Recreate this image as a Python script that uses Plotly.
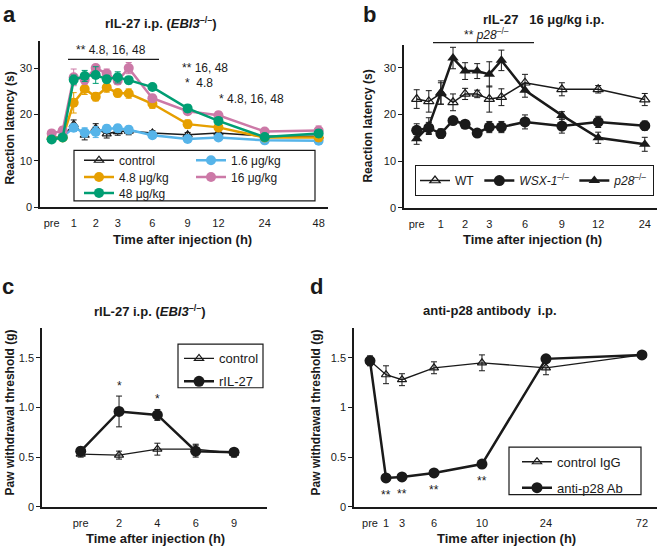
import plotly.graph_objects as go

W, H = 658, 552
FONT = "Liberation Sans, Arial, sans-serif"
INK = "#1a1a1a"

# ---------- panel a : rIL-27 i.p. dose response (EBI3-/-) ----------
A_TIME = ["pre", "0.5", "1", "1.5", "2", "2.5", "3", "4", "6", "9", "12", "24", "48"]
A_POS = [0, 1, 2, 3, 4, 5, 6, 7, 9.15, 12.35, 15.15, 19.35, 24.25]
A_TICKS = ["pre", "1", "2", "3", "6", "9", "12", "24", "48"]

a_control = [15.0, 15.3, 17.8, 15.5, 17.0, 15.8, 16.3, 16.4, 16.0, 15.6, 16.0, 15.3, 15.3]
a_control_err = [0.5, 0.5, 1.0, 1.0, 1.0, 0.9, 0.8, 0.8, 0.5, 0.5, 0.5, 0.5, 0.5]
a_1_6 = [14.8, 15.2, 17.1, 16.1, 16.2, 16.9, 17.0, 16.7, 15.5, 14.7, 15.0, 14.4, 14.3]
a_1_6_err = [0.5, 0.5, 0.8, 1.0, 1.2, 0.8, 0.8, 0.8, 0.6, 0.5, 0.5, 0.5, 0.5]
a_4_8 = [14.8, 15.0, 22.5, 25.5, 23.8, 25.8, 24.6, 24.5, 22.3, 17.9, 17.2, 15.0, 15.0]
a_4_8_err = [0.5, 0.5, 2.2, 1.2, 0.9, 1.0, 0.8, 1.0, 1.0, 0.9, 0.8, 0.5, 0.8]
a_16 = [15.9, 16.5, 28.0, 27.5, 30.0, 28.8, 27.3, 30.0, 23.5, 20.7, 19.8, 16.3, 16.5]
a_16_err = [0.6, 0.8, 1.8, 1.0, 0.8, 1.0, 0.8, 1.2, 0.8, 0.7, 0.8, 0.6, 1.0]
a_48 = [14.6, 15.0, 27.5, 28.3, 28.5, 27.6, 28.0, 27.4, 25.9, 21.3, 18.6, 15.1, 15.9]
a_48_err = [0.5, 0.5, 1.0, 1.2, 1.8, 0.8, 1.2, 0.8, 0.5, 0.8, 0.6, 0.5, 0.8]

# ---------- panel b : rIL-27 16 ug/kg in WT / WSX-1-/- / p28-/- ----------
B_TIME = ["pre", "0.5", "1", "1.5", "2", "2.5", "3", "4", "6", "9", "12", "24"]
B_POS = [0, 1, 2, 3, 4, 5, 6, 7, 8.95, 12, 15, 18.85]
B_TICKS = ["pre", "1", "2", "3", "6", "9", "12", "24"]

b_wt = [23.3, 22.8, 24.5, 22.6, 24.4, 24.4, 23.3, 23.7, 26.8, 25.4, 25.4, 23.2]
b_wt_err = [2.0, 2.3, 2.3, 1.8, 1.2, 0.8, 2.8, 1.8, 1.8, 1.4, 0.8, 1.3]
b_wsx = [16.6, 17.1, 15.9, 18.7, 17.9, 16.0, 17.3, 17.3, 18.4, 17.5, 18.4, 17.6]
b_wsx_err = [1.4, 1.2, 1.0, 0.8, 0.8, 0.6, 1.2, 1.2, 1.5, 1.5, 1.2, 1.0]
b_p28 = [14.8, 17.5, 24.7, 32.1, 29.3, 29.3, 28.6, 31.6, 25.2, 19.8, 15.0, 13.6]
b_p28_err = [1.2, 1.8, 2.5, 2.3, 1.8, 1.6, 2.7, 2.2, 1.5, 0.8, 1.2, 1.5]

# ---------- panel c : paw withdrawal, rIL-27 (EBI3-/-) ----------
C_TIME = ["pre", "2", "4", "6", "9"]
C_POS = [0, 1, 2, 3, 4]
c_control = [0.53, 0.52, 0.58, 0.58, 0.54]
c_control_err = [0.03, 0.04, 0.06, 0.05, 0.04]
c_ril27 = [0.56, 0.96, 0.925, 0.56, 0.55]
c_ril27_err = [0.04, 0.155, 0.055, 0.06, 0.03]

# ---------- panel d : paw withdrawal, anti-p28 antibody ----------
D_TIME = ["pre", "1", "3", "6", "10", "24", "72"]
D_POS = [0, 1, 2, 4, 7, 11, 17]
d_igg = [1.47, 1.33, 1.28, 1.40, 1.45, 1.40, 1.53]
d_igg_err = [0.05, 0.09, 0.06, 0.06, 0.08, 0.07, 0.03]
d_anti = [1.47, 0.29, 0.30, 0.34, 0.43, 1.49, 1.53]
d_anti_err = [0.03, 0.02, 0.02, 0.02, 0.02, 0.02, 0.02]

ORANGE, BLUE, PINK, GREEN = "#E69F00", "#56B4E9", "#CC79A7", "#009E73"


def px(x):
    return x / W


def py(y):
    return 1 - y / H


fig = go.Figure()


def add_series(pos, y, err, name, color, symbol, size, lw, ax, legend, group):
    open_sym = symbol.endswith("open")
    fig.add_trace(go.Scatter(
        x=pos, y=y, name=name, mode="lines+markers",
        xaxis="x" + ax, yaxis="y" + ax, legend=legend, legendgroup=group,
        line=dict(color=color, width=lw),
        marker=dict(symbol=symbol, size=size, color=color,
                    line=dict(width=1.2 if open_sym else 0, color=color)),
        error_y=dict(type="data", array=err, color=color, thickness=1, width=3),
    ))


add_series(A_POS, a_control, a_control_err, "control", INK, "triangle-up-open", 8, 1.5, "", "legend", "a1")
add_series(A_POS, a_1_6, a_1_6_err, "1.6 μg/kg", BLUE, "circle", 10, 2.5, "", "legend2", "a2")
add_series(A_POS, a_4_8, a_4_8_err, "4.8 μg/kg", ORANGE, "circle", 10, 2.5, "", "legend3", "a3")
add_series(A_POS, a_16, a_16_err, "16 μg/kg", PINK, "circle", 10, 2.5, "", "legend4", "a4")
add_series(A_POS, a_48, a_48_err, "48 μg/kg", GREEN, "circle", 10, 2.5, "", "legend5", "a5")

add_series(B_POS, b_wt, b_wt_err, "WT", INK, "triangle-up-open", 9, 1.5, "2", "legend6", "b1")
add_series(B_POS, b_wsx, b_wsx_err, "<i>WSX-1</i><sup>–/–</sup>", INK, "circle", 11, 2.5, "2", "legend6", "b2")
add_series(B_POS, b_p28, b_p28_err, "<i>p28</i><sup>–/–</sup>", INK, "triangle-up", 10, 2.5, "2", "legend6", "b3")

add_series(C_POS, c_control, c_control_err, "control", INK, "triangle-up-open", 8, 1.3, "3", "legend7", "c1")
add_series(C_POS, c_ril27, c_ril27_err, "rIL-27", INK, "circle", 11, 2.5, "3", "legend7", "c2")

add_series(D_POS, d_igg, d_igg_err, "control IgG", INK, "triangle-up-open", 8, 1.3, "4", "legend8", "d1")
add_series(D_POS, d_anti, d_anti_err, "anti-p28 Ab", INK, "circle", 11, 2.5, "4", "legend8", "d2")


def xaxis(dom, rng, times, pos, ticks, anchor):
    return dict(domain=dom, range=rng, anchor=anchor, showline=True, linecolor=INK, linewidth=1.5,
                showgrid=False, zeroline=False, ticks="",
                tickvals=[pos[times.index(t)] for t in ticks], ticktext=ticks,
                tickfont=dict(size=11, color=INK), ticklabelstandoff=5)


def yaxis(dom, rng, vals, text, anchor):
    return dict(domain=dom, range=rng, anchor=anchor, showline=True, linecolor=INK, linewidth=1.5,
                showgrid=False, zeroline=False, ticks="outside", ticklen=4, tickcolor=INK,
                tickvals=vals, ticktext=text, tickfont=dict(size=11, color=INK))


ycd = [py(512.3), py(331.7)]
fig.update_layout(
    xaxis=xaxis([px(40), px(328)], [-1.06, 25.1], A_TIME, A_POS, A_TICKS, "y"),
    yaxis=yaxis([py(209.3), py(41.7)], [0, 35.8], [0, 10, 20, 30], ["0", "10", "20", "30"], "x"),
    xaxis2=xaxis([px(404), px(657)], [-1.05, 19.86], B_TIME, B_POS, B_TICKS, "y2"),
    yaxis2=yaxis([py(210), py(45)], [0, 35], [0, 10, 20, 30], ["0", "10", "20", "30"], "x2"),
    xaxis3=xaxis([px(42), px(267)], [-1.01, 4.86], C_TIME, C_POS, C_TIME, "y3"),
    yaxis3=yaxis(ycd, [0, 1.8], [0, 0.5, 1, 1.5], ["0", "0.5", "1.0", "1.5"], "x3"),
    xaxis4=xaxis([px(354), px(657)], [-1.0, 17.94], D_TIME, D_POS, D_TIME, "y4"),
    yaxis4=yaxis(ycd, [0, 1.8], [0, 0.5, 1, 1.5], ["0", "0.5", "1", "1.5"], "x4"),
)

# legends (boxes are drawn as shapes so their size matches the original)
leg_common = dict(bgcolor="rgba(0,0,0,0)", itemwidth=30, font=dict(size=12, color=INK, family=FONT),
                  xanchor="left", yanchor="middle", orientation="v")
a_leg_pos = {"legend": (79, 162), "legend2": (191, 162), "legend3": (79, 179),
             "legend4": (191, 179), "legend5": (79, 195)}
legends = {k: dict(leg_common, x=px(x), y=py(y)) for k, (x, y) in a_leg_pos.items()}
legends["legend6"] = dict(leg_common, x=px(415), y=py(182.5), orientation="h",
                          bordercolor=INK, borderwidth=1)
legends["legend7"] = dict(leg_common, x=px(179), y=py(374), tracegroupgap=3,
                          font=dict(size=13, color=INK, family=FONT))
legends["legend8"] = dict(leg_common, x=px(517), y=py(480), tracegroupgap=6,
                          font=dict(size=13, color=INK, family=FONT))
fig.update_layout(**legends)

for x0, y0, x1, y1 in [(74, 152, 315, 203), (178, 348, 263, 392), (509, 452, 641, 500)]:
    fig.add_shape(type="rect", xref="paper", yref="paper", x0=px(x0), x1=px(x1), y0=py(y0), y1=py(y1),
                  line=dict(color=INK, width=1.2))
fig.add_shape(type="line", xref="paper", yref="paper", x0=px(68), x1=px(159), y0=py(60), y1=py(60),
              line=dict(color=INK, width=1.2))
fig.add_shape(type="line", xref="paper", yref="paper", x0=px(433), x1=px(534), y0=py(43), y1=py(43),
              line=dict(color=INK, width=1.2))

anns = []


def note(text, x, y, size=12, xanchor="center", angle=0, yanchor="middle"):
    anns.append(dict(text=text, x=px(x), y=py(y), xref="paper", yref="paper", showarrow=False,
                     xanchor=xanchor, yanchor=yanchor, textangle=angle,
                     font=dict(size=size, color=INK, family=FONT)))


# panel letters
note("<b>a</b>", 1, 0, 22, "left", yanchor="top")
note("<b>b</b>", 361, 0, 22, "left", yanchor="top")
note("<b>c</b>", 0, 290, 22, "left")
note("<b>d</b>", 308, 290, 22, "left")

# titles
note("<b>rIL-27 i.p. (<i>EBI3</i><sup>–/–</sup>)</b>", 161, 23, 13)
note("<b>rIL-27   16 μg/kg i.p.</b>", 543, 20, 13)
note("<b>rIL-27 i.p. (<i>EBI3</i><sup>–/–</sup>)</b>", 150, 314, 13)
note("<b>anti-p28 antibody  i.p.</b>", 490, 314, 13)

# axis titles
note("<b>Time after injection (h)</b>", 182, 242, 13)
note("<b>Time after injection (h)</b>", 532, 242, 13)
note("<b>Time after injection (h)</b>", 155, 544, 13)
note("<b>Time after injection (h)</b>", 506, 544, 13)
note("<b>Reaction latency (s)</b>", 10, 130, 12, angle=-90)
note("<b>Reaction latency (s)</b>", 368, 128, 12, angle=-90)
note("<b>Paw withdrawal threshold (g)</b>", 10, 417, 12, angle=-90)
note("<b>Paw withdrawal threshold (g)</b>", 316, 417, 12, angle=-90)

# significance marks
note("** 4.8, 16, 48", 111, 51, 12)
note("** 16, 48", 180, 69, 12, "left")
note("*  4.8", 183, 84, 12, "left")
note("* 4.8, 16, 48", 217, 100, 12, "left")
note("** <i>p28</i><sup>–/–</sup>", 487, 34, 12)

for i in (1, 2):
    anns.append(dict(text="*", x=C_POS[i], y=c_ril27[i] + c_ril27_err[i], xref="x3", yref="y3",
                     showarrow=False, yshift=10, font=dict(size=12, color=INK, family=FONT)))
for i in (1, 2, 3, 4):
    anns.append(dict(text="**", x=D_POS[i], y=d_anti[i], xref="x4", yref="y4",
                     showarrow=False, yshift=-17, font=dict(size=12, color=INK, family=FONT)))

fig.update_layout(
    annotations=anns,
    width=W, height=H,
    margin=dict(l=0, r=0, t=0, b=0),
    paper_bgcolor="white", plot_bgcolor="white",
    font=dict(family=FONT, color=INK),
    showlegend=True,
)

fig.write_html("out.html", config={"displayModeBar": False},
               post_script="document.body.style.margin='0px';")
